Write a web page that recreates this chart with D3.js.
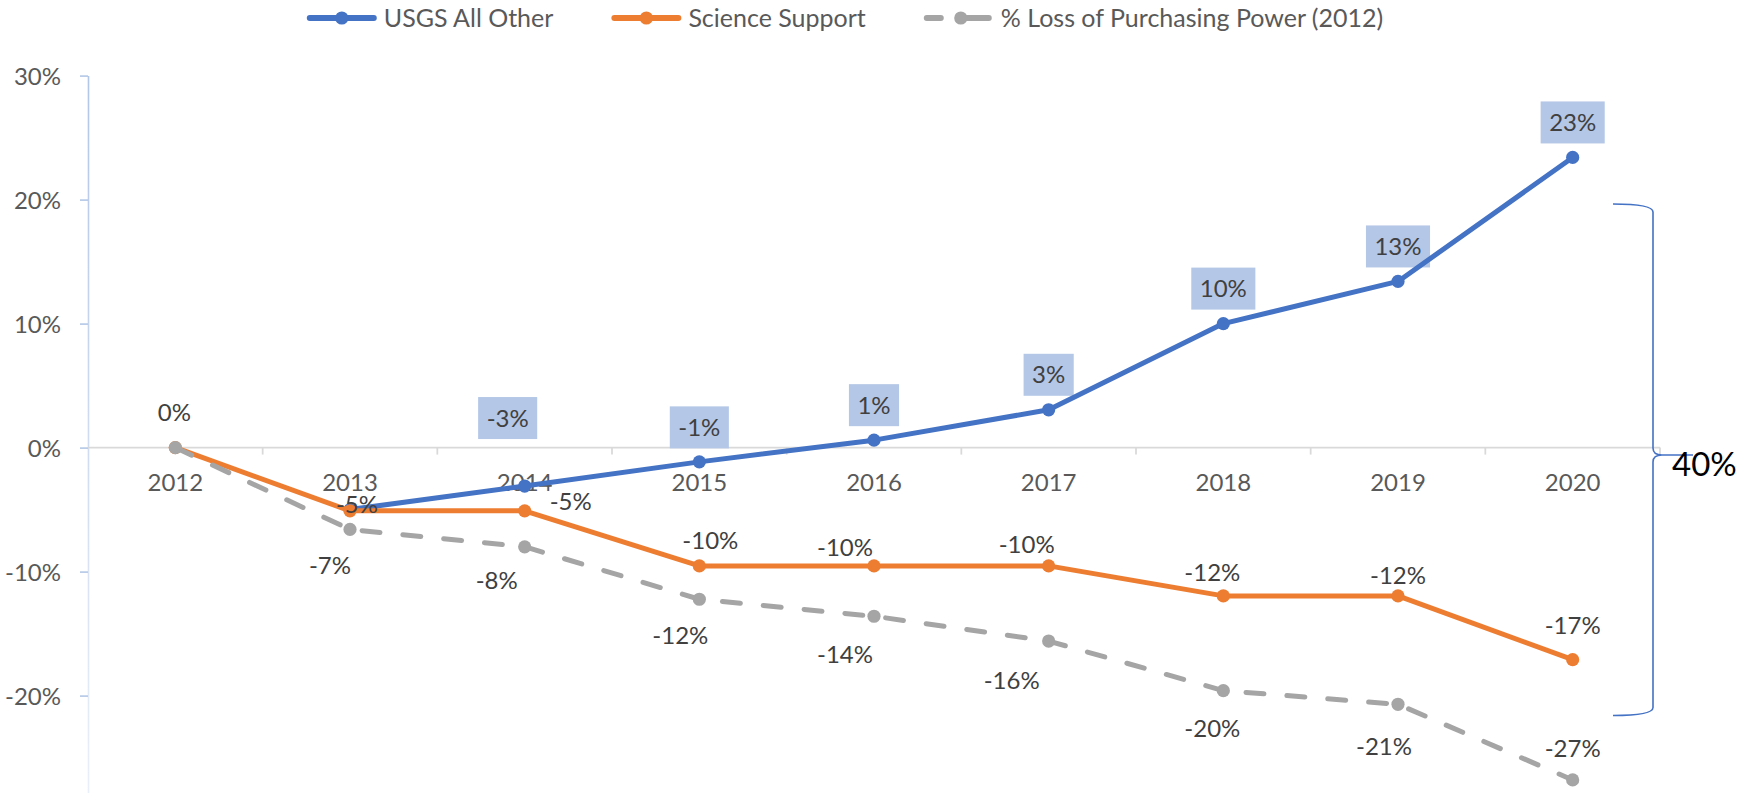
<!DOCTYPE html>
<html>
<head>
<meta charset="utf-8">
<script src="https://cdn.jsdelivr.net/npm/d3@7"></script>
<style>
  body { margin: 0; background: #ffffff; }
  svg { display: block; }
  text { font-family: Lato, "Open Sans", sans-serif; }
</style>
</head>
<body>
<svg id="chart" width="1742" height="793"></svg>
<script>
// ---- data (percent change relative to 2012) ----
const years = ["2012", "2013", "2014", "2015", "2016", "2017", "2018", "2019", "2020"];
const usgsAllOther = [null, -5.0, -3.1, -1.15, 0.6, 3.05, 10.0, 13.4, 23.4];
const scienceSupport = [0, -5.1, -5.1, -9.54, -9.54, -9.54, -11.96, -11.96, -17.1];
const purchasingPowerLoss = [0, -6.6, -8.0, -12.23, -13.6, -15.6, -19.6, -20.7, -26.8];
const yTicks = [-20, -10, 0, 10, 20, 30];
const seriesNames = ["USGS All Other", "Science Support", "% Loss of Purchasing Power (2012)"];
const gapLabel = "40%";

// ---- label placement (pixel offsets from each point; null = no label) ----
const blueLabelOffsets = [null, null, [-17, -68], [0, -34.5], [0, -35], [0, -35], [0, -35], [0, -35], [0, -35]];
const orangeLabelOffsets = [[-1, -35], [7, -6], [46, -9], [11, -26], [-29, -19], [-22, -22], [-11, -24], [0, -21], [0, -34]];
const grayLabelOffsets = [null, [-20, 36], [-28, 34], [-19, 36], [-29, 38], [-37, 39], [-11, 38], [-14, 42], [0, -32]];

// ---- styling ----
const colors = { blue: "#4472c4", orange: "#ed7d31", gray: "#a5a5a5", labelBox: "#b4c7e7" };
const W = 1742, H = 793;
const plot = { left: 88, right: 1660 };

const svg = d3.select("#chart");
const x = d3.scalePoint().domain(years).range([plot.left, plot.right]).padding(0.5);
const xBand = d3.scaleBand().domain(years).range([plot.left, plot.right]);
const y = d3.scaleLinear().domain([-30, 30]).range([819.6, 75.6]);
const fmt = v => `${Math.round(v)}%`;

// gradient for the value axis line
const defs = svg.append("defs");
const grad = defs.append("linearGradient").attr("id", "yAxisGrad")
  .attr("gradientUnits", "userSpaceOnUse")
  .attr("x1", 0).attr("x2", 0).attr("y1", y(30)).attr("y2", H);
grad.append("stop").attr("offset", 0).attr("stop-color", "#b2c6e8");
grad.append("stop").attr("offset", 1).attr("stop-color", "#eaf0f9");

// ---- value axis ----
const yAxis = svg.append("g").attr("transform", `translate(${plot.left},0)`)
  .call(d3.axisLeft(y).tickValues(yTicks).tickSize(8).tickSizeOuter(0).tickPadding(19).tickFormat(d => `${d}%`));
yAxis.select(".domain").attr("stroke", "url(#yAxisGrad)").attr("stroke-width", 1.6);
yAxis.selectAll(".tick line").attr("stroke", "#b4c7e7").attr("stroke-width", 1.6);
yAxis.selectAll(".tick text").attr("fill", "#595959").attr("font-size", 24).attr("dy", "0.36em");

// ---- category axis (crosses at 0%) ----
const xAxis = svg.append("g");
xAxis.append("line")
  .attr("x1", plot.left).attr("x2", plot.right)
  .attr("y1", y(0)).attr("y2", y(0))
  .attr("stroke", "#d9d9d9").attr("stroke-width", 1.75);
const boundaries = years.map(d => xBand(d)).concat([plot.right]).slice(1);
xAxis.selectAll("line.tick").data(boundaries).join("line").attr("class", "tick")
  .attr("x1", d => d).attr("x2", d => d)
  .attr("y1", y(0)).attr("y2", y(0) + 7)
  .attr("stroke", "#d9d9d9").attr("stroke-width", 1.75);
xAxis.selectAll("text").data(years).join("text")
  .attr("x", d => x(d)).attr("y", y(0) + 35).attr("dy", "0.36em")
  .attr("text-anchor", "middle").attr("fill", "#595959").attr("font-size", 24)
  .text(d => d);

// ---- series ----
const line = d3.line()
  .defined(v => v != null)
  .x((v, i) => x(years[i]))
  .y(v => y(v));

const series = [
  { values: usgsAllOther, color: colors.blue, dash: null, offsets: blueLabelOffsets, boxed: true },
  { values: scienceSupport, color: colors.orange, dash: null, offsets: orangeLabelOffsets, boxed: false },
  { values: purchasingPowerLoss, color: colors.gray, dash: "18,23", offsets: grayLabelOffsets, boxed: false }
];

// label boxes sit beneath the lines
const boxLayer = svg.append("g");
const lineLayer = svg.append("g");
const textLayer = svg.append("g");

series.forEach(s => {
  const g = lineLayer.append("g");
  g.append("path").datum(s.values)
    .attr("d", line)
    .attr("fill", "none")
    .attr("stroke", s.color)
    .attr("stroke-width", 5)
    .attr("stroke-linejoin", "round")
    .attr("stroke-linecap", "round")
    .attr("stroke-dasharray", s.dash);
  g.selectAll("circle")
    .data(s.values.map((v, i) => ({ v, i })).filter(d => d.v != null))
    .join("circle")
    .attr("cx", d => x(years[d.i]))
    .attr("cy", d => y(d.v))
    .attr("r", 6.6)
    .attr("fill", s.color);

  s.values.forEach((v, i) => {
    const off = s.offsets[i];
    if (v == null || !off) return;
    const cx = x(years[i]) + off[0];
    const cy = y(v) + off[1];
    const t = textLayer.append("text")
      .attr("x", cx).attr("y", cy).attr("dy", "0.36em")
      .attr("text-anchor", "middle")
      .attr("fill", "#404040").attr("font-size", 24)
      .text(fmt(v));
    if (s.boxed) {
      const w = t.node().getComputedTextLength() + 17;
      boxLayer.append("rect")
        .attr("x", cx - w / 2).attr("y", cy - 21)
        .attr("width", w).attr("height", 42)
        .attr("fill", colors.labelBox);
    }
  });
});

// ---- brace marking the spread at 2020 ----
const braceTop = y(19.65), braceBottom = y(-21.6), braceMid = y(-0.6);
const bx = plot.right - 7, bEnd = plot.right - 47, bTip = plot.right + 33;
const bracePath = [
  `M${bEnd},${braceTop}`,
  `Q${bx},${braceTop} ${bx},${braceTop + 8}`,
  `L${bx},${braceMid - 7}`,
  `Q${bx},${braceMid} ${bx + 9},${braceMid}`,
  `L${bTip},${braceMid}`,
  `M${bx + 9},${braceMid}`,
  `Q${bx},${braceMid} ${bx},${braceMid + 7}`,
  `L${bx},${braceBottom - 8}`,
  `Q${bx},${braceBottom} ${bEnd},${braceBottom}`
].join(" ");
svg.append("path").attr("d", bracePath)
  .attr("fill", "none").attr("stroke", colors.blue).attr("stroke-width", 1.6);
svg.append("text")
  .attr("x", plot.right + 12).attr("y", braceMid + 21)
  .attr("fill", "#000000").attr("font-size", 33)
  .text(gapLabel);

// ---- legend ----
const legend = svg.append("g");
const legendY = 18;
const legendColors = [colors.blue, colors.orange, colors.gray];
let cursor = 0;
seriesNames.forEach((name, i) => {
  const g = legend.append("g");
  g.append("line")
    .attr("x1", 3).attr("x2", 67).attr("y1", legendY).attr("y2", legendY)
    .attr("stroke", legendColors[i]).attr("stroke-width", 6)
    .attr("stroke-linecap", "round")
    .attr("stroke-dasharray", i === 2 ? "14,22" : null);
  g.append("circle").attr("cx", i === 2 ? 37 : 35).attr("cy", legendY).attr("r", 6.6).attr("fill", legendColors[i]);
  if (i === 2) {
    g.append("line").attr("x1", 48).attr("x2", 65).attr("y1", legendY).attr("y2", legendY)
      .attr("stroke", legendColors[i]).attr("stroke-width", 6).attr("stroke-linecap", "round");
  }
  const t = g.append("text")
    .attr("x", 77).attr("y", legendY).attr("dy", "0.36em")
    .attr("fill", "#595959").attr("font-size", 25)
    .text(name);
  const w = 77 + t.node().getComputedTextLength();
  g.attr("transform", `translate(${cursor},0)`);
  cursor += w + 58;
});
const legendWidth = cursor - 58;
legend.attr("transform", `translate(${845 - legendWidth / 2},0)`);
</script>
</body>
</html>
